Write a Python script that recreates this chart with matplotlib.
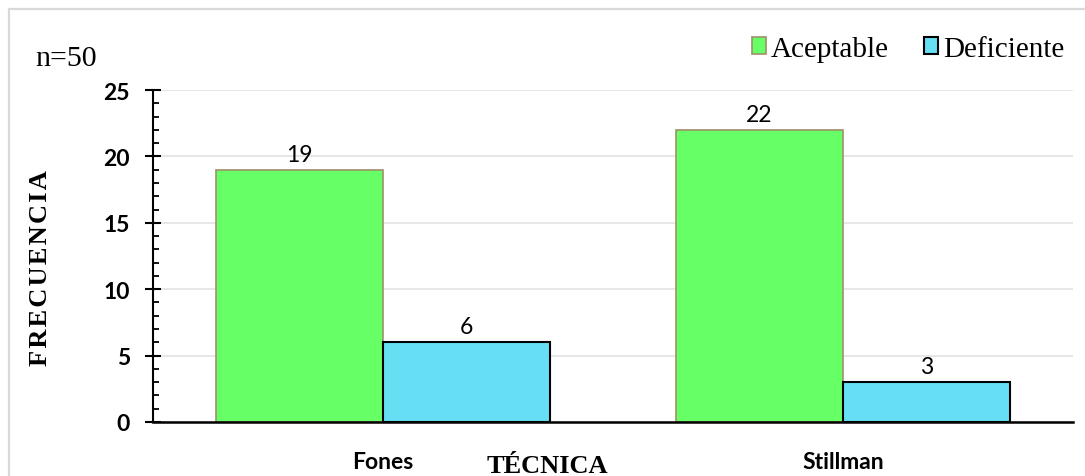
import matplotlib
matplotlib.use("Agg")
import matplotlib.pyplot as plt
from matplotlib.patches import Rectangle
from matplotlib.ticker import MultipleLocator
import numpy as np

# Data
tecnicas = ["Fones", "Stillman"]
aceptable = [19, 22]
deficiente = [6, 3]
series_labels = ["Aceptable", "Deficiente"]
y_ticks = [0, 5, 10, 15, 20, 25]

W, H = 1085, 477
fig = plt.figure(figsize=(W / 100, H / 100), dpi=100)
fig.patch.set_facecolor("white")

# Light frame around the chart area
fig.patches.append(Rectangle((9 / W, -0.1), 1.2, (H - 10) / H + 0.1,
                             transform=fig.transFigure, fill=False,
                             edgecolor="#D9D9D9", linewidth=1.6, zorder=0))

ax = fig.add_axes([153 / W, 1 - 423 / H, (1073 - 153) / W, (423 - 91) / H])

x = np.arange(len(tecnicas))
bw = 0.363
green = "#66FF66"
blue = "#66DFF5"
b1 = ax.bar(x - bw / 2, aceptable, bw, color=green, edgecolor="#A09068",
            linewidth=1.2, label=series_labels[0], zorder=3)
b2 = ax.bar(x + bw / 2, deficiente, bw, color=blue, edgecolor="black",
            linewidth=1.5, label=series_labels[1], zorder=3)

for bars, vals in ((b1, aceptable), (b2, deficiente)):
    for r, v in zip(bars, vals):
        ax.annotate(str(v), (r.get_x() + r.get_width() / 2, v),
                    xytext=(0, 6.5), textcoords="offset points",
                    ha="center", va="baseline", fontsize=16.5,
                    family="Lato", color="black")

ax.set_xlim(-0.5, 1.5)
ax.set_ylim(0, 25)
ax.set_yticks(y_ticks)
ax.yaxis.set_minor_locator(MultipleLocator(1))
ax.grid(axis="y", which="major", color="#E3E3E3", linewidth=1.2, zorder=0)
ax.set_axisbelow(True)

for s in ("top", "right"):
    ax.spines[s].set_visible(False)
ax.spines["left"].set_linewidth(1.5)
ax.spines["bottom"].set_linewidth(1.8)
ax.spines["bottom"].set_zorder(4)

ax.tick_params(axis="y", which="major", direction="inout", length=11,
               width=1.5, pad=11)
ax.tick_params(axis="y", which="minor", direction="in", length=4, width=1.3)
ax.tick_params(axis="x", length=0, pad=21)
ax.set_xticks(x)
ax.set_xticklabels(tecnicas)
for lbl in ax.get_xticklabels():
    lbl.set_fontfamily("Lato")
    lbl.set_fontweight("bold")
    lbl.set_fontsize(16.5)
for lbl in ax.get_yticklabels():
    lbl.set_fontfamily("Lato")
    lbl.set_fontweight("bold")
    lbl.set_fontsize(16.5)

# Axis titles
fig.text(547 / W, 1 - 473 / H, "TÉCNICA", ha="center", va="baseline",
         fontsize=19, fontweight="bold", family="Liberation Serif")
fig.text(41 / W, 1 - 268 / H, "\u200a".join("FRECUENCIA"), ha="center",
         va="center", rotation=90, fontsize=19, fontweight="bold",
         family=["Liberation Serif", "DejaVu Serif"])

fig.text(35 / W, 1 - 66 / H, "n=50", ha="left", va="baseline",
         fontsize=21.5, family="Liberation Serif")

fig.legend(handles=[b1, b2], labels=series_labels, loc="upper right",
           bbox_to_anchor=(1064 / W, 1 - 37 / H), ncol=2, frameon=False,
           prop={"family": "Liberation Serif", "size": 21},
           handlelength=0.5, handleheight=0.5, handletextpad=0.15,
           columnspacing=1.2, borderaxespad=0, borderpad=0)

fig.savefig("out.png", dpi=100, facecolor="white")
